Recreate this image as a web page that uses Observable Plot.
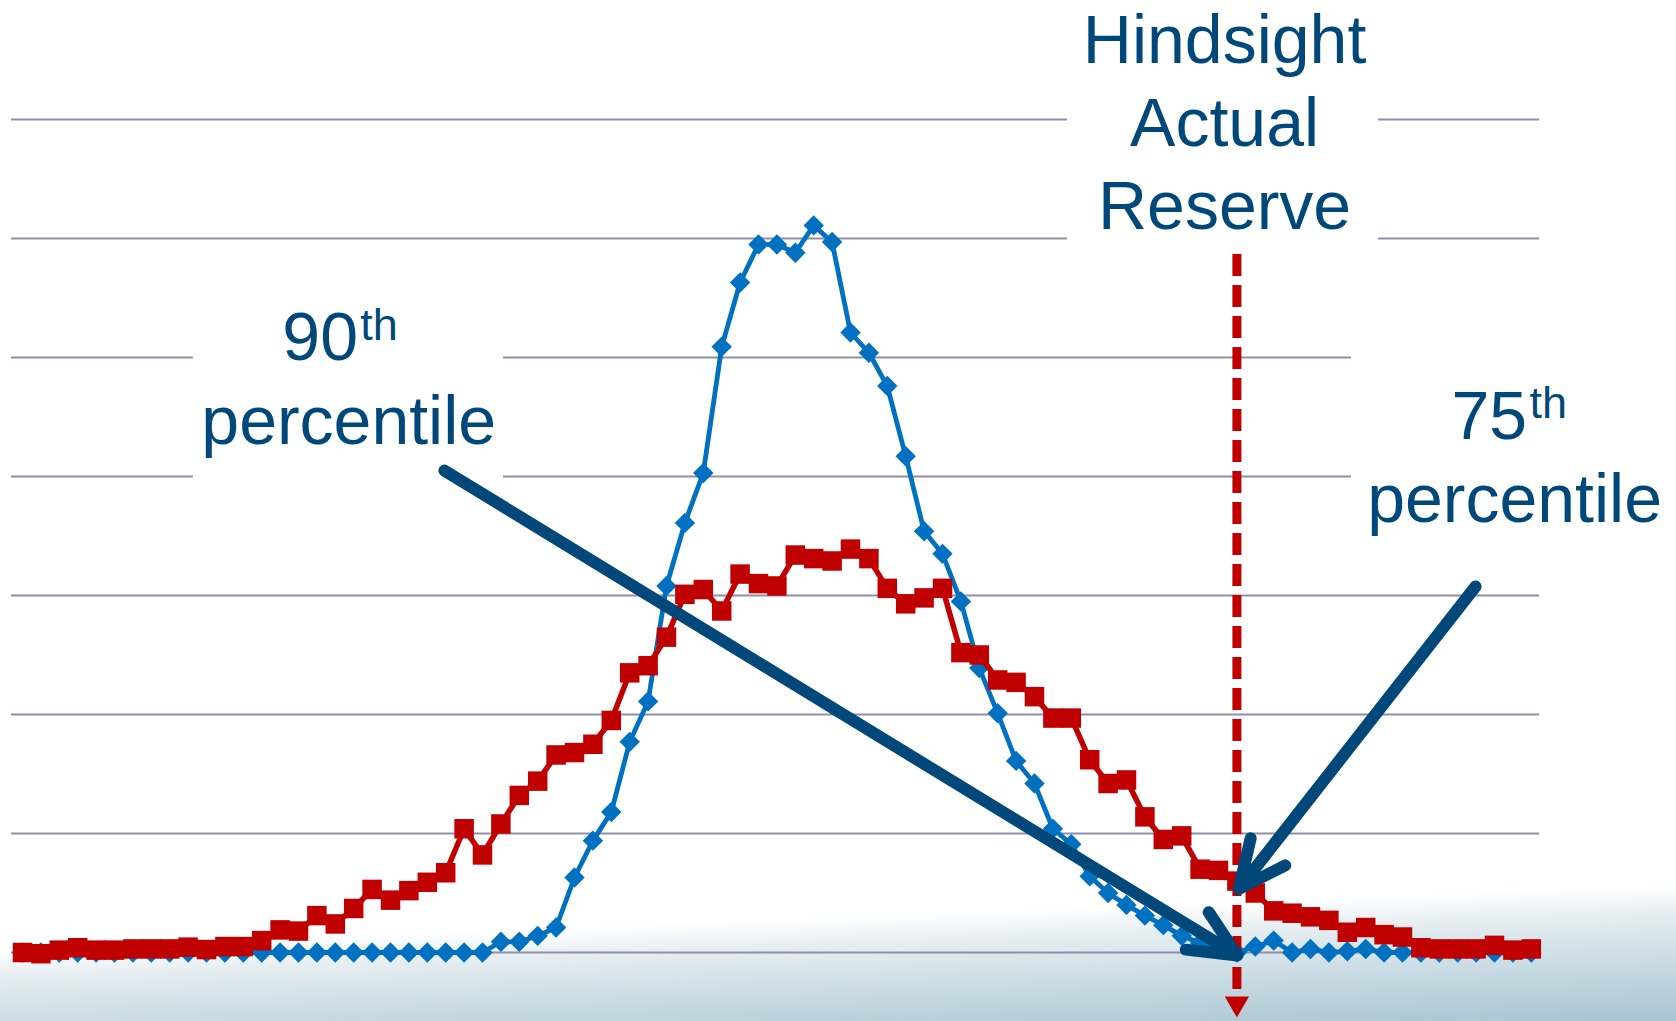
<!DOCTYPE html>
<html>
<head>
<meta charset="utf-8">
<script src="https://cdn.jsdelivr.net/npm/d3@7"></script>
<script src="https://cdn.jsdelivr.net/npm/@observablehq/plot@0.6"></script>
<style>
html, body { margin: 0; padding: 0; overflow: hidden; width: 1676px; height: 1021px; }
body { background: linear-gradient(177.8deg, #ffffff 0%, #ffffff 87.5%, #e6eef2 90%, #c6d9e2 95%, #a7c5d2 100%); }
#chart svg { display: block; }
</style>
</head>
<body>
<div id="chart"></div>
<script>
// Distribution values (in gridline units), one per bin
const blueValues = [
  0, 0, 0, 0, 0, 0, 0, 0, 0, 0,
  0, 0, 0, 0, 0, 0, 0, 0, 0, 0,
  0, 0, 0, 0, 0, 0, 0.09, 0.09, 0.14, 0.21,
  0.63, 0.94, 1.18, 1.77, 2.11, 3.08, 3.61, 4.03, 5.09, 5.63,
  5.95, 5.95, 5.88, 6.11, 5.97, 5.21, 5.04, 4.76, 4.17, 3.54,
  3.35, 2.95, 2.39, 2.01, 1.61, 1.42, 1.04, 0.91, 0.64, 0.50,
  0.40, 0.31, 0.23, 0.14, 0.08, 0.03, 0, 0.05, 0.10, 0,
  0.03, 0, 0.01, 0.03, 0, 0, 0, 0, 0, 0,
  0, 0, 0
];
const redValues = [
  0.00, -0.01, 0.02, 0.04, 0.02, 0.02, 0.03, 0.03, 0.03, 0.045,
  0.025, 0.05, 0.05, 0.10, 0.19, 0.18, 0.31, 0.24, 0.37, 0.53,
  0.44, 0.52, 0.59, 0.67, 1.04, 0.82, 1.08, 1.32, 1.44, 1.66,
  1.68, 1.75, 1.95, 2.35, 2.41, 2.65, 3.01, 3.05, 2.87, 3.18,
  3.10, 3.08, 3.34, 3.31, 3.29, 3.39, 3.31, 3.06, 2.93, 2.98,
  3.06, 2.52, 2.50, 2.29, 2.27, 2.15, 1.97, 1.97, 1.62, 1.42,
  1.45, 1.14, 0.95, 0.98, 0.70, 0.69, 0.60, 0.50, 0.35, 0.33,
  0.30, 0.27, 0.17, 0.21, 0.15, 0.13, 0.04, 0.03, 0.03, 0.03,
  0.06, 0.02, 0.03
];
const gridLevels = [0, 1, 2, 3, 4, 5, 6, 7];
const gridSpan = [-0.6, 82.45];
const actualReserveBin = 66;
const reserveLineTop = 5.866;
const reserveLineBottom = -0.37;
const reserveArrowY = -0.4286;

// White boxes behind the labels (data units)
const labelBoxes = [
  {x1: 56.79, x2: 73.70, y1: 5.899, y2: 8.0},
  {x1: 9.29, x2: 26.14, y1: 3.294, y2: 5.857},
  {x1: 72.23, x2: 89.9, y1: 3.294, y2: 5.479}
];
// Pointer arrows (data units)
const pointerArrows = [
  {x1: 22.93, y1: 4.05, x2: 66.03, y2: -0.025},
  {x1: 78.97, y1: 3.076, x2: 66.11, y2: 0.534}
];
const mainLabels = [
  {text: "percentile", x: 17.73, y: 4.275},
  {text: "percentile", x: 81.09, y: 3.616}
];
const ordinalLabels = [
  {text: "90", x: 14.12, y: 4.975},
  {text: "75", x: 77.66, y: 4.317}
];
const supLabels = [
  {text: "th", x: 18.36, y: 5.149},
  {text: "th", x: 81.90, y: 4.491}
];
const reserveLabel = [{text: "Hindsight\nActual\nReserve", x: 65.33, y: 6.076}];

const blueData = blueValues.map((v, i) => ({bin: i, v}));
const redData = redValues.map((v, i) => ({bin: i, v}));

const navy = "#00487a";
const red = "#c00000";
const blue = "#0070c0";
const font = "'Liberation Sans', Arial, sans-serif";

const triangleDown = {
  draw(ctx, size) {
    const y = Math.sqrt(size / (Math.sqrt(3) * 3));
    ctx.moveTo(0, 2 * y);
    ctx.lineTo(-Math.sqrt(3) * y, -y);
    ctx.lineTo(Math.sqrt(3) * y, -y);
    ctx.closePath();
  }
};

const chart = Plot.plot({
  width: 1676,
  height: 1021,
  marginLeft: 22,
  marginRight: 145.2,
  marginTop: 119,
  marginBottom: 69,
  x: {domain: [0, 82], axis: null},
  y: {domain: [0, 7], axis: null},
  style: {background: "transparent", overflow: "visible"},
  marks: [
    Plot.ruleY(gridLevels, {x1: gridSpan[0], x2: gridSpan[1], stroke: "#928ea8", strokeWidth: 2}),
    Plot.rect(labelBoxes, {x1: "x1", x2: "x2", y1: "y1", y2: "y2", fill: "white"}),
    Plot.line(blueData, {x: "bin", y: "v", stroke: blue, strokeWidth: 4.8}),
    Plot.dot(blueData, {x: "bin", y: "v", symbol: "diamond2", r: 9.2, fill: blue, stroke: "none"}),
    Plot.line(redData, {x: "bin", y: "v", stroke: red, strokeWidth: 5.5}),
    Plot.dot(redData, {x: "bin", y: "v", symbol: "square", r: 11, fill: red, stroke: "none"}),
    Plot.ruleX([actualReserveBin], {y1: reserveLineTop, y2: reserveLineBottom, stroke: red, strokeWidth: 9, strokeDasharray: "22,9"}),
    Plot.dot([actualReserveBin], {x: d => d, y: reserveArrowY, symbol: triangleDown, r: 9, fill: red, stroke: "none"}),
    Plot.arrow(pointerArrows, {x1: "x1", y1: "y1", x2: "x2", y2: "y2", stroke: navy, strokeWidth: 12, headLength: 6.5, headAngle: 50}),
    Plot.text(reserveLabel, {x: "x", y: "y", text: "text", fontSize: 68, fontFamily: font, fill: navy, textAnchor: "middle", lineAnchor: "bottom", lineHeight: 1.225}),
    Plot.text(mainLabels, {x: "x", y: "y", text: "text", fontSize: 68, fontFamily: font, fill: navy, textAnchor: "middle", lineAnchor: "bottom"}),
    Plot.text(ordinalLabels, {x: "x", y: "y", text: "text", fontSize: 68, fontFamily: font, fill: navy, textAnchor: "start", lineAnchor: "bottom"}),
    Plot.text(supLabels, {x: "x", y: "y", text: "text", fontSize: 45, fontFamily: font, fill: navy, textAnchor: "start", lineAnchor: "bottom"})
  ]
});
document.getElementById("chart").appendChild(chart);
</script>
</body>
</html>
